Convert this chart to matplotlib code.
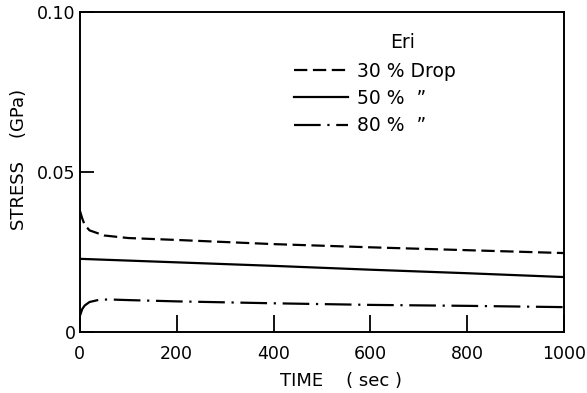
import matplotlib
matplotlib.use("Agg")
import matplotlib.pyplot as plt

# stress relaxation data (time in sec, stress in GPa)
time_30 = [0, 5, 10, 20, 50, 100, 200, 400, 600, 800, 1000]
stress_30 = [0.038, 0.0355, 0.0335, 0.0318, 0.0302, 0.0294, 0.0288, 0.0275, 0.0265, 0.0256, 0.0247]

time_50 = [0, 200, 400, 600, 800, 1000]
stress_50 = [0.0229, 0.0218, 0.0207, 0.0195, 0.0184, 0.0172]

time_80 = [0, 5, 10, 20, 40, 60, 100, 200, 400, 600, 800, 1000]
stress_80 = [0.005, 0.0072, 0.0083, 0.0094, 0.0101, 0.0102, 0.0100, 0.0096, 0.0090, 0.0085, 0.0082, 0.0078]

labels = ["30 % Drop", "50 %  \u201d", "80 %  \u201d"]
legend_title = "Eri"

x_ticks = [0, 200, 400, 600, 800, 1000]
y_ticks = [0, 0.05, 0.10]
y_ticklabels = ["0", "0.05", "0.10"]

plt.rcParams["font.family"] = ["DejaVu Sans"]

fig = plt.figure(figsize=(5.87, 3.93), dpi=100)
ax = fig.add_axes([0.136, 0.155, 0.825, 0.814])

lw = 1.6
ax.plot(time_30, stress_30, color="black", lw=lw, dashes=(6, 2.5), label=labels[0])
ax.plot(time_50, stress_50, color="black", lw=lw, label=labels[1])
ax.plot(time_80, stress_80, color="black", lw=lw, dashes=(12, 3, 1, 3), label=labels[2])

ax.set_xlim(0, 1000)
ax.set_ylim(0, 0.10)
ax.set_xticks(x_ticks)
ax.set_yticks(y_ticks)
ax.set_yticklabels(y_ticklabels)
ax.tick_params(direction="in", length=10, width=1.3, labelsize=12.5, pad=3)
ax.tick_params(axis="x", length=12, pad=9)

for s in ax.spines.values():
    s.set_linewidth(1.4)

ax.set_xlabel("TIME    ( sec )", fontsize=13)
ax.xaxis.set_label_coords(0.54, -0.125)
ax.set_ylabel("STRESS    (GPa)", fontsize=13)
ax.yaxis.set_label_coords(-0.108, 0.54)

leg = ax.legend(frameon=False, fontsize=13.5, loc="upper left",
                bbox_to_anchor=(0.422, 0.875), handlelength=2.9,
                handletextpad=0.5, labelspacing=0.45, borderpad=0)
ax.text(0.666, 0.905, legend_title, transform=ax.transAxes, fontsize=13.5,
        ha="center", va="center")

fig.savefig("out.png", dpi=100)
